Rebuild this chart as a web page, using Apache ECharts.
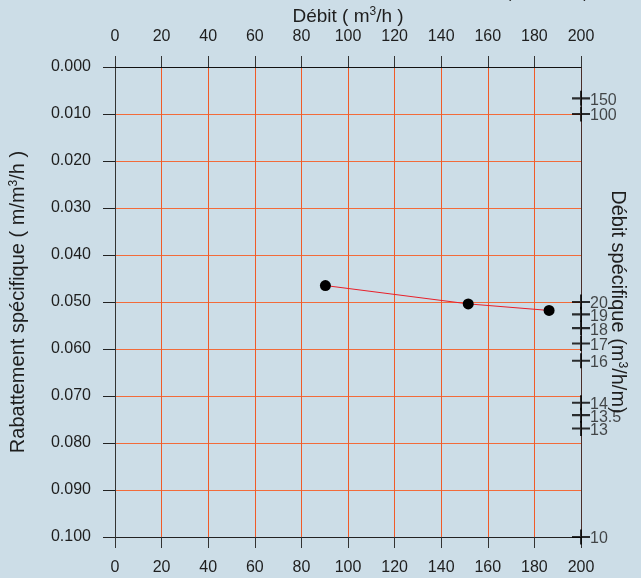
<!DOCTYPE html>
<html>
<head>
<meta charset="utf-8">
<script src="https://cdn.jsdelivr.net/npm/echarts@6/dist/echarts.min.js"></script>
<style>
html,body{margin:0;padding:0;background:#ccdde7;}
#c{width:641px;height:578px;}
</style>
</head>
<body>
<div id="c"></div>
<script>
// Data
var debit = [90.3, 151.6, 186.3];                 // Débit (m3/h)
var rabattementSpec = [0.0465, 0.0504, 0.0518];    // Rabattement spécifique (m/m3/h)
var xTicks = [0, 20, 40, 60, 80, 100, 120, 140, 160, 180, 200];
var yTicks = [0.000, 0.010, 0.020, 0.030, 0.040, 0.050, 0.060, 0.070, 0.080, 0.090, 0.100];
var debitSpecTicks = [150, 100, 20, 19, 18, 17, 16, 14, 13.5, 13, 10]; // Débit spécifique (m3/h/m)

var font = 'Liberation Sans, Arial, sans-serif';
var fs = 16;
var fsTitle = 20;
var txt = '#1e1e1e';
var grid = '#f26b3a';
var gridV = '#f05a28';

var plusPath = 'path://M0,6 L18,6 L18,8 L0,8 Z M8,0 L10,0 L10,14 L8,14 Z';
var supRich = {sup: {fontSize: 12, verticalAlign: 'bottom', padding: [0,0,9,0], color: txt, fontFamily: font}};

var chart = echarts.init(document.getElementById('c'), null, {renderer: 'canvas'});
chart.setOption({
  backgroundColor: '#ccdde7',
  animation: false,
  textStyle: {fontFamily: font},
  grid: {left: 115, right: 60, top: 67, bottom: 41, containLabel: false, outerBoundsMode: 'none'},
  xAxis: [{
    type: 'value', position: 'bottom', min: xTicks[0], max: xTicks[xTicks.length-1], interval: 20,
    axisLine: {show: true, onZero: false, lineStyle: {color: '#222', width: 1}},
    axisTick: {show: true, inside: false, length: 11, lineStyle: {color: '#333'}},
    axisLabel: {margin: 23, fontSize: fs, color: txt, fontFamily: font},
    splitLine: {show: true, lineStyle: {color: gridV, width: 1, opacity: 1}}
  }, {
    type: 'value', position: 'top', min: xTicks[0], max: xTicks[xTicks.length-1], interval: 20,
    name: 'Débit ( m{sup|3}/h )', nameLocation: 'middle', nameGap: 40, nameMoveOverlap: false,
    nameTextStyle: {fontSize: 19, color: txt, fontFamily: font, rich: supRich},
    axisLine: {show: true, onZero: false, lineStyle: {color: '#111', width: 1}},
    axisTick: {show: true, inside: false, length: 11, lineStyle: {color: '#333'}},
    axisLabel: {margin: 22, fontSize: fs, color: txt, fontFamily: font},
    splitLine: {show: true, lineStyle: {color: gridV, width: 1, opacity: 1}}
  }],
  yAxis: [{
    type: 'value', position: 'left', inverse: true, min: yTicks[0], max: yTicks[yTicks.length-1], interval: 0.01,
    name: 'Rabattement spécifique ( m/m{sup|3}/h )', nameLocation: 'middle', nameGap: 86, nameRotate: 90,
    nameTextStyle: {fontSize: fsTitle, color: txt, fontFamily: font, rich: supRich},
    axisLine: {show: true, onZero: false, lineStyle: {color: '#333', width: 1}},
    axisTick: {show: true, inside: false, length: 12, lineStyle: {color: '#222'}},
    axisLabel: {margin: 24, fontSize: fs, color: txt, fontFamily: font,
      formatter: function (v) { return v.toFixed(3); }},
    splitLine: {show: true, lineStyle: {color: grid, width: 1}}
  }, {
    type: 'value', position: 'right', inverse: true, min: yTicks[0], max: yTicks[yTicks.length-1], interval: 0.01,
    name: 'Débit spécifique (m{sup|3}/h/m)', nameLocation: 'middle', nameGap: 26, nameRotate: -90,
    nameTextStyle: {fontSize: fsTitle, color: txt, fontFamily: font, rich: supRich},
    axisLine: {show: true, onZero: false, lineStyle: {color: '#4a2e2a', width: 1}},
    axisTick: {show: false},
    axisLabel: {show: false},
    splitLine: {show: false}
  }],
  graphic: [{
    type: 'text', left: 506, top: -14, silent: true,
    style: {text: '(  m³/h/m   )', fontSize: fs, fill: txt, fontFamily: font}
  }],
  series: [{
    type: 'line', xAxisIndex: 0, yAxisIndex: 0,
    data: debit.map(function (d, i) { return [d, rabattementSpec[i]]; }),
    lineStyle: {color: '#e8202a', width: 1},
    symbol: 'circle', symbolSize: 11,
    itemStyle: {color: '#000'},
    z: 5
  }, {
    type: 'scatter', xAxisIndex: 0, yAxisIndex: 0, clip: false,
    data: debitSpecTicks.map(function (v) { return {value: [xTicks[xTicks.length-1], 1 / v], name: String(v)}; }),
    symbol: plusPath, symbolSize: [18, 15], symbolKeepAspect: false,
    itemStyle: {color: '#000'},
    label: {show: true, position: 'right', distance: 0, formatter: '{b}', fontSize: fs, color: txt, fontFamily: font, offset: [0, 2]},
    z: 6
  }]
});
</script>
</body>
</html>
